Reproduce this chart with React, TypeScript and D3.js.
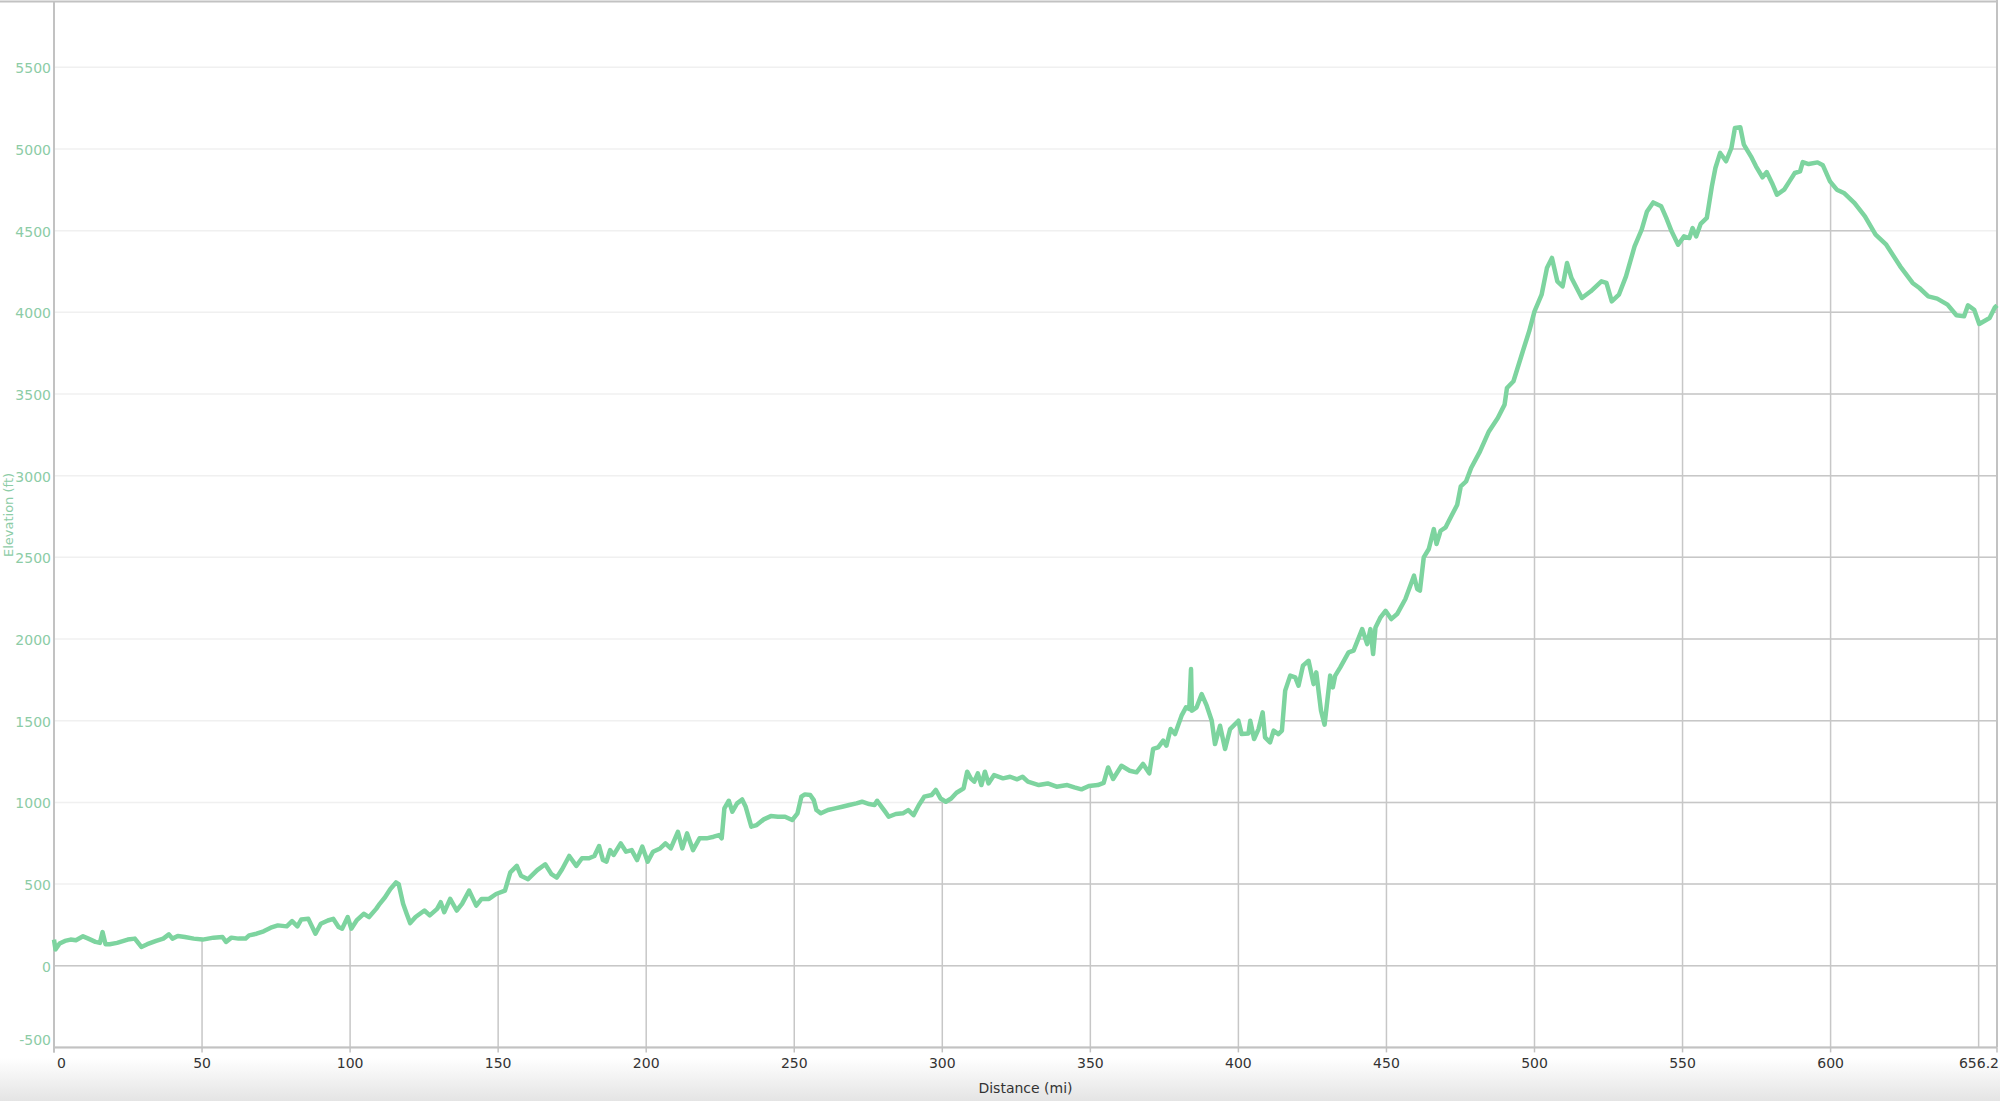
import * as d3 from 'd3';
import React from 'react';

// elevation profile
const distanceMi = [
  0, 0.5, 1.9, 3.7, 5.6, 7.4, 9.8, 11.6, 14.0, 15.5, 16.4, 17.4, 18.8, 21.3, 24.9, 27.3, 29.5, 31.5, 34.5, 36.9,
  38.8, 40.0, 41.8, 44.2, 47.2, 50.2, 53.9, 56.9, 58.1, 59.9, 62.3, 64.7, 65.9, 68.4, 70.8, 73.2, 75.6, 78.6, 80.4, 82.2,
  83.5, 85.9, 88.3, 90.1, 92.5, 94.3, 96.1, 97.3, 99.2, 100.4, 102.2, 104.6, 106.4, 108.8, 110.0, 111.8, 113.6, 115.5, 116.4, 117.9,
  119.1, 120.3, 122.1, 125.1, 126.9, 129.4, 130.6, 131.8, 133.8, 136.0, 137.8, 140.2, 142.6, 144.4, 146.9, 149.3, 152.3, 154.1, 156.3, 157.7,
  160.1, 163.2, 165.9, 168.0, 169.8, 171.6, 174.0, 176.4, 178.3, 180.7, 182.5, 184.1,
  185.4, 186.6, 187.8, 189.0, 191.4, 193.2, 195.1, 196.9, 198.7, 200.5, 202.3, 204.7, 206.5, 208.3, 210.7, 212.2, 213.8, 215.8, 218.0, 220.4,
  222.8, 224.6, 225.5, 226.4, 227.9, 229.1, 230.7, 232.4, 233.6, 235.5, 237.3, 239.7, 242.1, 244.5, 246.9, 249.3, 251.1, 252.4, 253.6, 255.4,
  256.6, 257.5, 259.0, 261.4, 263.8, 266.2, 268.6, 271.0, 272.9, 275.3, 277.1, 278.0, 279.5, 280.7, 281.9, 284.3, 286.7, 288.5, 290.3, 292.1,
  293.9, 296.4, 297.8, 299.4, 301.2, 303.0, 304.8, 307.2, 308.4, 309.6, 310.8, 312.0, 313.2, 314.4, 315.6, 317.5, 320.5, 322.9, 325.3, 327.1,
  328.9, 332.6, 335.6, 338.6, 342.2, 344.6, 347.0, 349.5, 352.5,
  354.5, 356.0, 357.7, 360.5, 363.3, 365.6, 367.8, 369.9, 371.2, 372.9, 374.6, 375.7, 377.1, 378.6, 380.8, 382.3, 383.4, 384.0, 384.3, 385.9,
  387.6, 389.3, 391.0, 392.1, 393.8, 395.5, 397.2, 400.0, 401.1, 403.4, 404.0, 405.3, 406.8, 408.2, 409.0, 410.7, 411.9, 413.5, 414.7, 415.8,
  417.5, 419.2, 420.3, 421.8, 423.7, 425.4, 426.3, 427.9, 429.1, 431.0, 431.9, 432.7, 434.4, 437.2, 438.9, 441.8, 443.5, 444.6, 445.5, 446.3,
  448.0, 449.7, 451.6, 453.6, 456.4, 459.3, 460.4, 461.3, 462.6, 464.3, 466.0, 466.9, 468.3, 470.0, 471.1,
  473.9, 475.1, 476.9, 478.6, 481.6, 484.6, 487.6, 489.9, 490.7, 492.9, 496.4, 498.2, 500.0, 502.4, 504.2, 505.9, 507.7, 509.5, 511.0, 512.5,
  516.0, 519.0, 522.6, 524.3, 526.1, 528.5, 530.9, 533.8, 536.2, 538.0, 540.1, 542.8, 544.5, 546.3, 548.5, 550.5, 552.3, 553.4, 554.6, 556.1,
  558.2, 559.9, 561.1, 562.7, 564.7, 566.5, 567.7, 569.5, 570.7, 573.1, 574.8, 577.0, 578.4, 580.2, 581.9, 584.3, 586.1, 587.9, 589.7, 590.6,
  592.6, 595.6, 597.4, 599.8, 602.1, 604.5, 608.1, 611.6, 615.2, 618.8, 623.5, 627.7, 630.0, 633.0, 636.0, 639.5, 642.5, 645.1, 646.4, 648.5,
  650.2, 653.7, 655.5, 656.2,
];

const elevationFt = [
  160, 100, 136, 152, 160, 156, 180, 166, 146, 140, 206, 132, 132, 140, 160, 166, 115, 132, 152, 166,
  192, 166, 182, 176, 166, 160, 172, 176, 146, 172, 166, 166, 186, 196, 211, 233, 247, 241, 273, 241,
  283, 287, 196, 257, 277, 287, 237, 227, 298, 227, 277, 318, 298, 348, 379, 419, 470, 510, 500, 379,
  318, 261, 298, 338, 308, 348, 389, 328, 409, 338, 379, 460, 368, 409, 409, 439, 460, 571, 611, 551,
  530, 585, 621, 561, 540, 591, 672, 611, 658, 658, 672, 733,
  647, 637, 708, 678, 749, 698, 708, 647, 729, 637, 698, 718, 749, 718, 820, 718, 810, 708, 780, 780,
  790, 800, 780, 963, 1010, 943, 994, 1018, 973, 851, 861, 896, 916, 912, 912, 892, 933, 1035, 1049, 1045,
  1014, 953, 933, 953, 963, 973, 984, 994, 1004, 990, 984, 1010, 973, 943, 912, 929, 933, 953, 922, 984,
  1035, 1045, 1076, 1024, 1004, 1024, 1059, 1086, 1188, 1147, 1127, 1178, 1106, 1188, 1116, 1167, 1147, 1157, 1141, 1157,
  1127, 1106, 1116, 1096, 1106, 1092, 1080, 1100, 1106,
  1120, 1214, 1143, 1224, 1194, 1184, 1235, 1178, 1327, 1337, 1378, 1347, 1449, 1418, 1531, 1582, 1571, 1816, 1561, 1582,
  1663, 1592, 1500, 1357, 1469, 1327, 1449, 1500, 1418, 1422, 1500, 1388, 1449, 1551, 1398, 1367, 1439, 1418, 1439, 1684,
  1776, 1765, 1714, 1837, 1867, 1724, 1796, 1561, 1476, 1776, 1704, 1776, 1827, 1918, 1929, 2061, 1969, 2061, 1908, 2071,
  2133, 2173, 2122, 2153, 2245, 2388, 2306, 2296, 2500, 2551, 2673, 2582, 2663, 2684, 2724,
  2822, 2935, 2965, 3047, 3149, 3271, 3353, 3435, 3537, 3578, 3782, 3884, 4006, 4108, 4271, 4333, 4190, 4159, 4302, 4210,
  4088, 4129, 4190, 4180, 4067, 4108, 4220, 4404, 4506, 4618, 4673, 4649, 4578, 4496, 4414, 4465, 4455, 4516, 4465, 4541,
  4578, 4771, 4884, 4976, 4925, 5006, 5129, 5133, 5027, 4955, 4894, 4827, 4859, 4792, 4720, 4751, 4802, 4853, 4863, 4920,
  4908, 4918, 4900, 4802, 4751, 4731, 4669, 4588, 4476, 4414, 4282, 4180, 4149, 4098, 4084, 4047, 3982, 3976, 4043, 4016,
  3929, 3965, 4031, 4043,
];

const yTicks = [-500, 0, 500, 1000, 1500, 2000, 2500, 3000, 3500, 4000, 4500, 5000, 5500];
const xGrid = [50, 100, 150, 200, 250, 300, 350, 400, 450, 500, 550, 600, 650];
const xTickValues = [0, 50, 100, 150, 200, 250, 300, 350, 400, 450, 500, 550, 600, 656.2];
const xTickLabels = ['0', '50', '100', '150', '200', '250', '300', '350', '400', '450', '500', '550', '600', '656.2'];

const W = 2000;
const H = 1101;
const left = 54;
const right = 1997;
const top = 2;
const bottom = 1047.4;

const font = '"DejaVu Sans", Verdana, sans-serif';
const lineColor = '#7dd49f';
const labelGreen = '#8ccca6';

export default function App() {
  const x = d3.scaleLinear().domain([0, 656.2]).range([left, right]);
  const y = d3.scaleLinear().domain([-500, 5900]).range([bottom, top]);

  const pts: [number, number][] = distanceMi.map((d, i) => [d, elevationFt[i]]);
  const linePath = d3
    .line<[number, number]>()
    .x((d) => x(d[0]))
    .y((d) => y(d[1]))(pts);
  const areaPath = d3
    .area<[number, number]>()
    .x((d) => x(d[0]))
    .y0(bottom)
    .y1((d) => y(d[1]))(pts);

  return (
    <svg
      width={W}
      height={H}
      style={{ position: 'absolute', left: 0, top: 0, display: 'block', background: '#fff' }}
    >
      <defs>
        <clipPath id="under">
          <path d={areaPath || ''} />
        </clipPath>
        <linearGradient id="shade" x1="0" y1="0" x2="0" y2="1">
          <stop offset="0" stopColor="#e4e4e4" stopOpacity={0} />
          <stop offset="1" stopColor="#e4e4e4" stopOpacity={1} />
        </linearGradient>
      </defs>

      {/* bottom shadow of the screenshot */}
      <rect x={0} y={1058} width={W} height={H - 1058} fill="url(#shade)" />

      {/* faint grid across */}
      {yTicks.map((t) => (
        <line key={'fg' + t} x1={left} x2={right} y1={y(t)} y2={y(t)} stroke="#f0f0f0" strokeWidth={1.5} />
      ))}

      {/* darker grid only under the profile */}
      <g clipPath="url(#under)" stroke="#c7c7c7" strokeWidth={1.5}>
        {yTicks.map((t) => (
          <line key={'dg' + t} x1={left} x2={right} y1={y(t)} y2={y(t)} />
        ))}
        {xGrid.map((t) => (
          <line key={'vg' + t} x1={x(t)} x2={x(t)} y1={top} y2={bottom} />
        ))}
      </g>

      {/* frame */}
      <line x1={0} x2={right} y1={1.5} y2={1.5} stroke="#c2c2c2" strokeWidth={2} />
      <line x1={right} x2={right} y1={0} y2={bottom} stroke="#c2c2c2" strokeWidth={2} />
      <line x1={left} x2={left} y1={top} y2={bottom + 5} stroke="#c2c2c2" strokeWidth={2} />
      <line x1={left} x2={right} y1={bottom} y2={bottom} stroke="#c2c2c2" strokeWidth={2} />

      {/* x ticks */}
      {xTickValues.map((t) => (
        <line key={'xt' + t} x1={x(t)} x2={x(t)} y1={bottom} y2={bottom + 5} stroke="#c2c2c2" strokeWidth={1.5} />
      ))}

      <path d={linePath || ''} fill="none" stroke={lineColor} strokeWidth={4.5} strokeLinejoin="round" />

      {/* y labels */}
      {yTicks.map((t) => (
        <text
          key={'yl' + t}
          x={51}
          y={t === -500 ? y(t) - 6 : y(t) + 2}
          textAnchor="end"
          dominantBaseline="middle"
          fontFamily={font}
          fontSize={14}
          fill={labelGreen}
        >
          {t}
        </text>
      ))}

      {/* x labels */}
      {xTickValues.map((t, i) => {
        const first = i === 0;
        const last = i === xTickValues.length - 1;
        return (
          <text
            key={'xl' + t}
            x={first ? x(t) + 3 : last ? x(t) + 2 : x(t)}
            y={1064}
            textAnchor={first ? 'start' : last ? 'end' : 'middle'}
            dominantBaseline="middle"
            fontFamily={font}
            fontSize={14}
            fill="#333"
          >
            {xTickLabels[i]}
          </text>
        );
      })}

      <text
        x={(left + right) / 2}
        y={1089}
        textAnchor="middle"
        dominantBaseline="middle"
        fontFamily={font}
        fontSize={14}
        fill="#333"
      >
        Distance (mi)
      </text>

      <text
        transform="translate(13,515) rotate(-90)"
        textAnchor="middle"
        fontFamily={font}
        fontSize={13}
        fill={labelGreen}
      >
        Elevation (ft)
      </text>
    </svg>
  );
}
